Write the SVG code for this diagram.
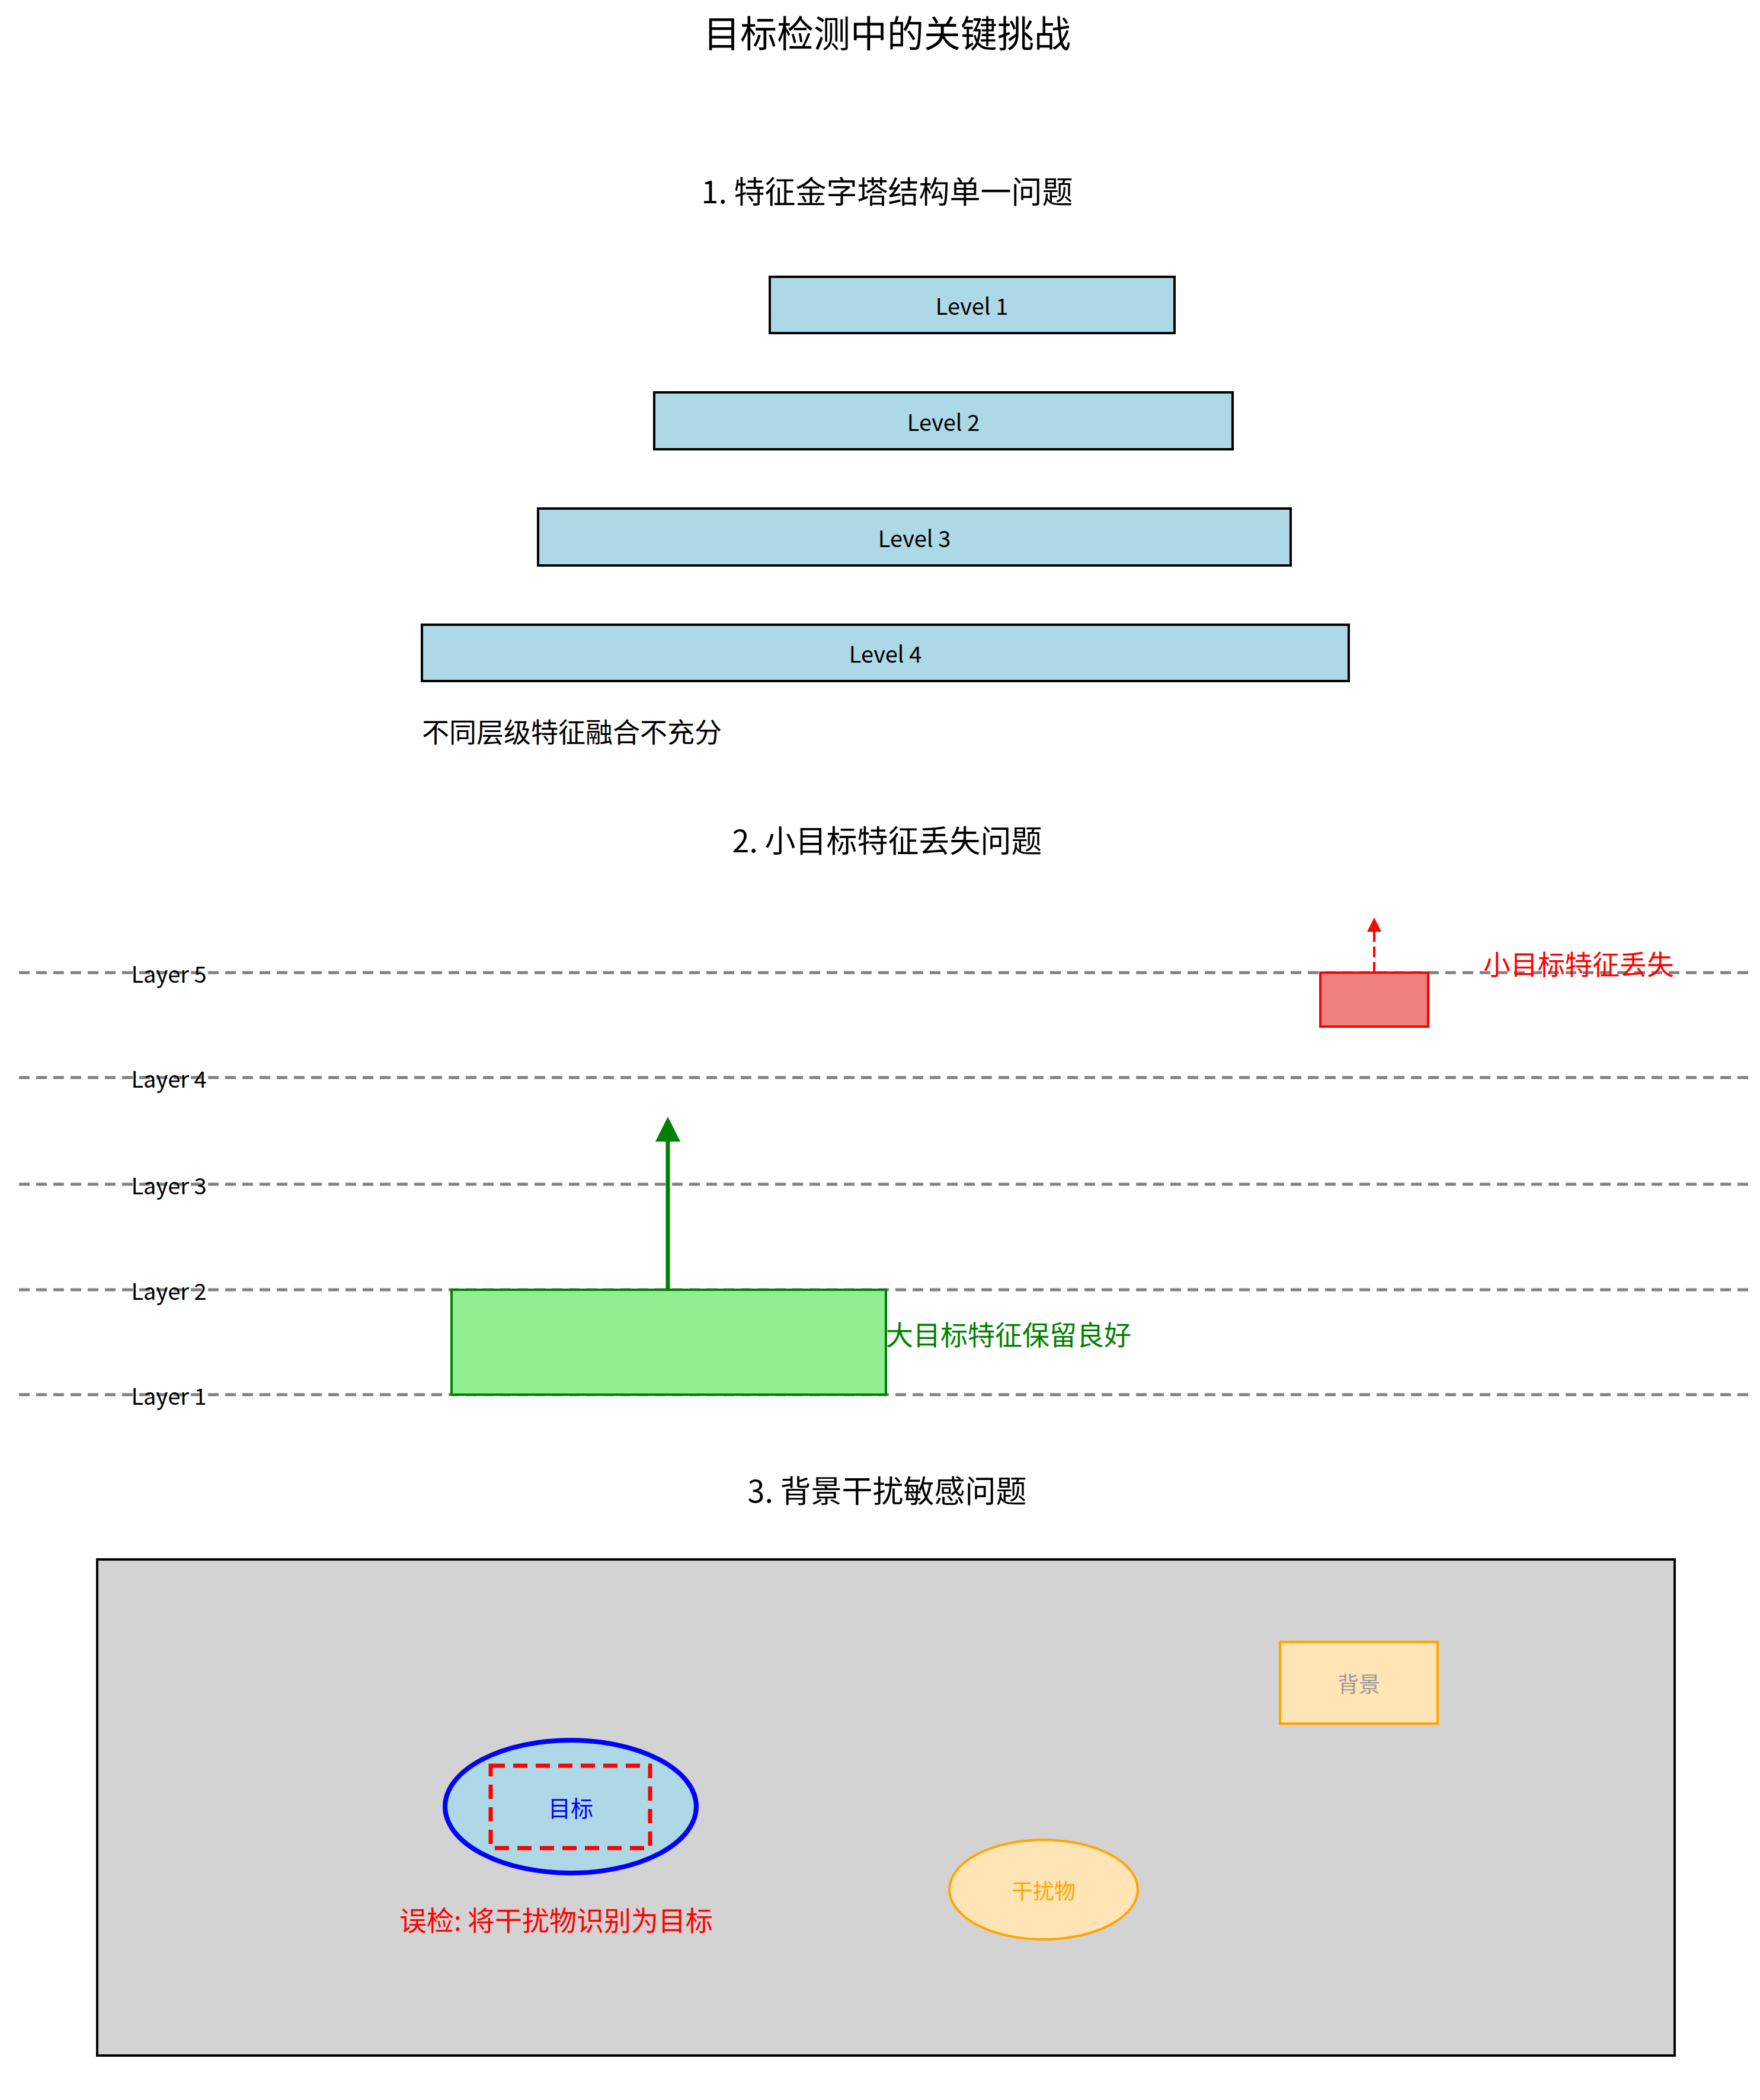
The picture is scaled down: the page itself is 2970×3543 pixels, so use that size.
<svg xmlns="http://www.w3.org/2000/svg" width="2970" height="3543" viewBox="0 0 2970 3543">
<style>
text{font-family:"Noto Sans CJK SC","Noto Sans",sans-serif;}
.h{font-size:52px;text-anchor:middle;fill:#000}
.lv{fill:#ADD8E6;stroke:#000;stroke-width:4}
.lt{font-size:38px;text-anchor:middle;dominant-baseline:central}
.ln{stroke:#808080;stroke-width:5;stroke-dasharray:18,11}
.ll{font-size:38px;text-anchor:middle;dominant-baseline:central}
</style>
<defs>
<marker id="ag" markerWidth="6" markerHeight="6" refX="3" refY="3" orient="auto"><path d="M0,0L6,3L0,6Z" fill="green"/></marker>
<marker id="ar" markerWidth="6" markerHeight="6" refX="3" refY="3" orient="auto"><path d="M0,0L6,3L0,6Z" fill="red"/></marker>
</defs>
<rect width="2970" height="3543" fill="#fff"/>
<text x="1497" y="80" style="font-size:62px;text-anchor:middle">目标检测中的关键挑战</text>
<text class="h" x="1497" y="343">1. 特征金字塔结构单一问题</text>
<g id="level1"><rect class="lv" x="1299" y="467" width="683" height="95"/><text class="lt" x="1640" y="514">Level 1</text></g>
<g id="level2"><rect class="lv" x="1104" y="662" width="976" height="96"/><text class="lt" x="1592" y="710">Level 2</text></g>
<g id="level3"><rect class="lv" x="908" y="858" width="1270" height="96"/><text class="lt" x="1543" y="906">Level 3</text></g>
<g id="level4"><rect class="lv" x="712" y="1054" width="1564" height="95"/><text class="lt" x="1494" y="1101">Level 4</text></g>
<text x="712" y="1252" style="font-size:46px">不同层级特征融合不充分</text>
<text class="h" x="1497" y="1438">2. 小目标特征丢失问题</text>
<g id="layers">
<line class="ln" x1="32" y1="1641" x2="2958" y2="1641"/><text class="ll" x="285" y="1641">Layer 5</text>
<line class="ln" x1="32" y1="1818" x2="2958" y2="1818"/><text class="ll" x="285" y="1818">Layer 4</text>
<line class="ln" x1="32" y1="1998" x2="2958" y2="1998"/><text class="ll" x="285" y="1998">Layer 3</text>
<line class="ln" x1="32" y1="2176" x2="2958" y2="2176"/><text class="ll" x="285" y="2176">Layer 2</text>
<line class="ln" x1="32" y1="2353" x2="2958" y2="2353"/><text class="ll" x="285" y="2353">Layer 1</text>
</g>
<g id="small"><rect x="2228" y="1641" width="182" height="91" fill="#F08080" stroke="red" stroke-width="4"/>
<text x="2503" y="1644" style="font-size:46px;fill:red">小目标特征丢失</text></g>
<g id="large"><rect x="762" y="2176" width="733" height="177" fill="#90EE90" stroke="green" stroke-width="4"/>
<text x="1495" y="2249" style="font-size:46px;fill:green;dominant-baseline:central">大目标特征保留良好</text></g>
<g id="connectors">
<line x1="2319" y1="1641" x2="2319" y2="1560" stroke="red" stroke-width="4" stroke-dasharray="18,8" marker-end="url(#ar)"/>
<line x1="1127" y1="2176" x2="1127" y2="1905" stroke="green" stroke-width="7" marker-end="url(#ag)"/>
</g>
<text class="h" x="1497" y="2535">3. 背景干扰敏感问题</text>
<g id="scene"><rect x="164" y="2631" width="2662" height="837" fill="#D3D3D3" stroke="#000" stroke-width="4"/></g>
<g id="bg"><rect x="2160" y="2770" width="266" height="138" fill="#FFE4B5" stroke="orange" stroke-width="4"/><text x="2293" y="2839" style="font-size:36px;fill:#999;text-anchor:middle;dominant-baseline:central">背景</text></g>
<g id="target"><ellipse cx="963" cy="3048" rx="212" ry="112" fill="#ADD8E6" stroke="blue" stroke-width="8"/>
<rect x="828" y="2979" width="269" height="139" fill="none" stroke="red" stroke-width="7" stroke-dasharray="24,14"/>
<text x="963" y="3048" style="font-size:38px;fill:blue;text-anchor:middle;dominant-baseline:central">目标</text>
<text x="674" y="3257" style="font-size:46px;fill:red">误检: 将干扰物识别为目标</text></g>
<g id="distractor"><ellipse cx="1761" cy="3188" rx="159" ry="84" fill="#FFE4B5" stroke="orange" stroke-width="4"/><text x="1761" y="3188" style="font-size:36px;fill:orange;text-anchor:middle;dominant-baseline:central">干扰物</text></g>
</svg>
